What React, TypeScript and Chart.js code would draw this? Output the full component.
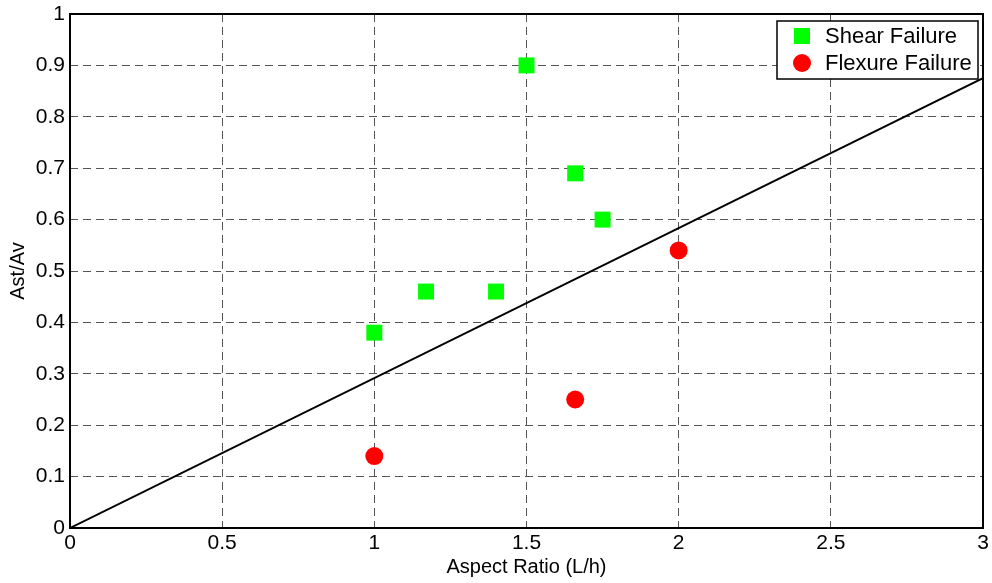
import React, { useEffect, useRef } from 'react';
import { Chart, registerables } from 'chart.js';

Chart.register(...registerables);

const shearX = [1, 1.17, 1.4, 1.5, 1.66, 1.75];
const shearY = [0.38, 0.46, 0.46, 0.9, 0.69, 0.6];
const flexX = [1, 1.66, 2];
const flexY = [0.14, 0.25, 0.54];
const lineX = [0, 3];
const lineY = [0, 0.875];
const seriesLabels = ['Shear Failure', 'Flexure Failure'];
const xTitle = 'Aspect Ratio (L/h)';
const yTitle = 'Ast/Av';
const xRange = [0, 3, 0.5];
const yRange = [0, 1, 0.1];

const FONT = "'Liberation Sans', Arial, Helvetica, sans-serif";
const GREEN = '#00ff00';
const RED = '#ff0000';

const fmt = (v: any) => String(Number(Number(v).toFixed(2)));

const boxAndLegend = {
  id: 'boxAndLegend',
  afterDraw(chart: any) {
    const { ctx, chartArea: a } = chart;
    ctx.save();
    // axes box
    ctx.strokeStyle = '#000';
    ctx.lineWidth = 2;
    ctx.setLineDash([]);
    ctx.strokeRect(a.left, a.top, a.right - a.left, a.bottom - a.top);

    // legend
    const w = 201;
    const h = 58;
    const x0 = a.right - 206;
    const y0 = a.top + 7;
    ctx.fillStyle = '#fff';
    ctx.fillRect(x0, y0, w, h);
    ctx.lineWidth = 1.5;
    ctx.strokeRect(x0, y0, w, h);

    const ds = chart.data.datasets;
    const rows = [y0 + 15, y0 + 42];
    ctx.fillStyle = ds[0].backgroundColor;
    ctx.fillRect(x0 + 25 - 8, rows[0] - 8, 16, 16);
    ctx.fillStyle = ds[1].backgroundColor;
    ctx.beginPath();
    ctx.arc(x0 + 25, rows[1], 9, 0, Math.PI * 2);
    ctx.fill();

    ctx.fillStyle = '#000';
    ctx.font = `22px ${FONT}`;
    ctx.textBaseline = 'middle';
    ctx.textAlign = 'left';
    ctx.fillText(ds[0].label, x0 + 48, rows[0] + 1);
    ctx.fillText(ds[1].label, x0 + 48, rows[1] + 1);
    ctx.restore();
  },
};

export default function App() {
  const ref = useRef<HTMLCanvasElement | null>(null);

  useEffect(() => {
    if (!ref.current) return;
    const chart = new Chart(ref.current, {
      type: 'scatter',
      data: {
        datasets: [
          {
            label: seriesLabels[0],
            data: shearX.map((x, i) => ({ x, y: shearY[i] })),
            backgroundColor: GREEN,
            borderColor: GREEN,
            pointStyle: 'rect',
            pointRadius: 11.3,
            pointHoverRadius: 11.3,
            borderWidth: 0,
          },
          {
            label: seriesLabels[1],
            data: flexX.map((x, i) => ({ x, y: flexY[i] })),
            backgroundColor: RED,
            borderColor: RED,
            pointStyle: 'circle',
            pointRadius: 9,
            pointHoverRadius: 9,
            borderWidth: 0,
          },
          {
            type: 'line',
            label: 'limit',
            data: lineX.map((x, i) => ({ x, y: lineY[i] })),
            borderColor: '#000',
            backgroundColor: '#000',
            borderWidth: 2,
            pointRadius: 0,
            showLine: true,
            fill: false,
          } as any,
        ],
      },
      options: {
        responsive: false,
        animation: false,
        layout: { autoPadding: false, padding: { top: 14, right: 9, left: 0, bottom: 0 } },
        plugins: {
          legend: { display: false },
          tooltip: { enabled: false },
        },
        scales: {
          x: {
            type: 'linear',
            min: xRange[0],
            max: xRange[1],
            ticks: {
              stepSize: xRange[2],
              color: '#000',
              font: { family: FONT, size: 21 },
              padding: 3,
              maxRotation: 0,
              callback: fmt,
            },
            grid: { color: '#555', lineWidth: 1, drawTicks: false },
            border: { display: false, dash: [8, 5] },
            title: {
              display: true,
              text: xTitle,
              color: '#000',
              font: { family: FONT, size: 20 },
              padding: { top: 0, bottom: 4 },
            },
            afterFit(s: any) {
              s.height = 55;
              s.paddingLeft = 0;
              s.paddingRight = 0;
            },
          },
          y: {
            type: 'linear',
            min: yRange[0],
            max: yRange[1],
            ticks: {
              stepSize: yRange[2],
              color: '#000',
              font: { family: FONT, size: 21 },
              padding: 5,
              callback: fmt,
            },
            grid: { color: '#555', lineWidth: 1, drawTicks: false },
            border: { display: false, dash: [8, 5] },
            title: {
              display: true,
              text: yTitle,
              color: '#000',
              font: { family: FONT, size: 20 },
              padding: { top: 6, bottom: 0 },
            },
            afterFit(s: any) {
              s.width = 70;
              s.paddingTop = 0;
              s.paddingBottom = 0;
            },
          },
        },
      } as any,
      plugins: [boxAndLegend],
    });
    return () => chart.destroy();
  }, []);

  return (
    <div style={{ position: 'fixed', left: 0, top: 0, width: 992, height: 583, background: '#fff' }}>
      <canvas ref={ref} width={992} height={583} style={{ display: 'block' }} />
    </div>
  );
}
